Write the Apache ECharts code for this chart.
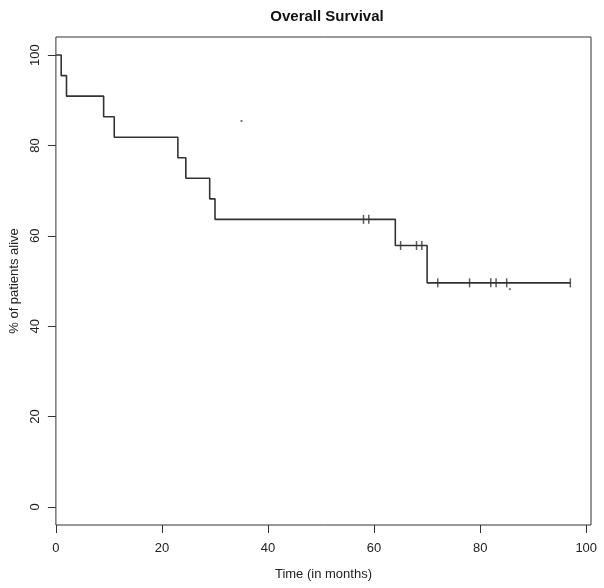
<!DOCTYPE html>
<html>
<head>
<meta charset="utf-8">
<script src="https://cdn.jsdelivr.net/npm/echarts@6/dist/echarts.min.js"></script>
<style>
html,body{margin:0;padding:0;background:#fff;}
#chart{width:604px;height:588px;}
</style>
</head>
<body>
<div id="chart"></div>
<script>
// Kaplan-Meier step points: time (months), % alive
const stepTimes = [0, 1, 2, 9, 11, 23, 24.5, 29, 30, 64, 70, 97];
const stepSurvival = [100, 95.45, 90.91, 86.36, 81.82, 77.27, 72.73, 68.18, 63.64, 57.85, 49.59, 49.59];
// Censored observations
const censorTimes = [58, 59, 65, 68, 69, 72, 78, 82, 83, 85, 97];
const censorSurvival = [63.64, 63.64, 57.85, 57.85, 57.85, 49.59, 49.59, 49.59, 49.59, 49.59, 49.59];
// Tiny specks visible in the reference
const speckTimes = [35, 85.6];
const speckValues = [85.4, 48.2];
// Tick labels
const xTicks = [0, 20, 40, 60, 80, 100];
const yTicks = [0, 20, 40, 60, 80, 100];

const stepData = stepTimes.map((t, i) => [t, stepSurvival[i]]);
const censorData = censorTimes.map((t, i) => [t, censorSurvival[i]]);
const speckData = speckTimes.map((t, i) => [t, speckValues[i]]);

const FONT = '"Liberation Sans", Arial, Helvetica, sans-serif';
const ink = '#222';

const chart = echarts.init(document.getElementById('chart'), null, {renderer: 'canvas'});
chart.setOption({
  animation: false,
  backgroundColor: '#fff',
  title: {
    text: 'Overall Survival',
    left: 322, textAlign: 'center', top: 4,
    textStyle: {fontFamily: FONT, fontSize: 15, fontWeight: 'bold', color: '#111'}
  },
  grid: {
    left: 54, right: 13, top: 37, bottom: 63,
    show: true, borderColor: '#333', borderWidth: 1, backgroundColor: 'transparent'
  },
  xAxis: {
    type: 'value', min: 0, max: 100.9,
    splitLine: {show: false},
    axisLine: {show: false, onZero: false},
    axisTick: {show: true, inside: false, length: 8, lineStyle: {color: '#333'}, customValues: xTicks},
    axisLabel: {show: true, margin: 17, fontFamily: FONT, fontSize: 13, color: ink, customValues: xTicks},
    name: 'Time (in months)', nameLocation: 'middle', nameGap: 43,
    nameTextStyle: {fontFamily: FONT, fontSize: 13, color: ink}
  },
  yAxis: {
    type: 'value', min: -4, max: 104,
    splitLine: {show: false},
    axisLine: {show: false, onZero: false},
    axisTick: {show: true, inside: false, length: 8, lineStyle: {color: '#333'}, customValues: yTicks},
    axisLabel: {show: true, rotate: 90, margin: 14, fontFamily: FONT, fontSize: 13, color: ink, customValues: yTicks},
    name: '% of patients alive', nameLocation: 'middle', nameGap: 31, nameRotate: 90,
    nameTextStyle: {fontFamily: FONT, fontSize: 13, color: ink}
  },
  series: [
    {
      type: 'line', step: 'end', data: stepData,
      showSymbol: false, symbol: 'none',
      lineStyle: {color: '#333', width: 1.6},
      z: 3
    },
    {
      type: 'scatter', data: censorData,
      symbol: 'rect', symbolSize: [1.5, 9],
      itemStyle: {color: '#333'},
      z: 4
    },
    {
      type: 'scatter', data: speckData,
      symbol: 'rect', symbolSize: [2, 2],
      itemStyle: {color: '#555'},
      z: 4
    }
  ]
});
</script>
</body>
</html>
